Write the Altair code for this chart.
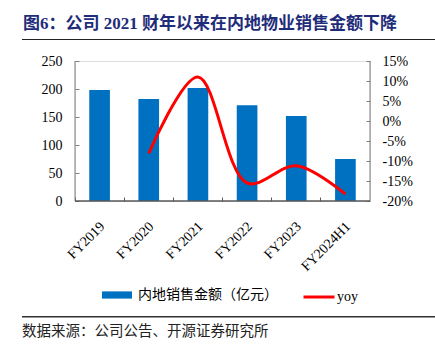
import altair as alt
import pandas as pd

categories = ["FY2019", "FY2020", "FY2021", "FY2022", "FY2023", "FY2024H1"]
sales = [198, 182, 202, 171, 152, 75]
yoy = [None, -8.1, 11.0, -15.5, -11.2, -18.3]
left_ticks = [0, 50, 100, 150, 200, 250]
right_ticks = [-20, -15, -10, -5, 0, 5, 10, 15]
bar_name = "内地销售金额（亿元）"
line_name = "yoy"
title_text = "图6：公司 2021 财年以来在内地物业销售金额下降"
source_text = "数据来源：公司公告、开源证券研究所"

W, H = 295, 140
SERIF = "Liberation Serif, Noto Sans CJK SC"
AXIS_GRAY = "#7F7F7F"

bars_df = pd.DataFrame({"cat": categories, "sales": sales, "series": [bar_name] * len(categories)})
line_df = pd.DataFrame({"cat": categories, "yoy": yoy, "series": [line_name] * len(categories)}).dropna()
one = pd.DataFrame({"k": [0]})

xscale = alt.Scale(domain=categories, paddingInner=0, paddingOuter=0)
xaxis = alt.Axis(title=None, labelAngle=-45, bandPosition=0, offset=-4, labelOffset=-2,
                 tickSize=4, domain=False, tickColor="#595959", labelPadding=18,
                 labelFont=SERIF, labelFontSize=14, labelColor="black")
xenc = alt.X("cat:N", scale=xscale, axis=xaxis, sort=categories)

bars = alt.Chart(bars_df).mark_bar(width=alt.RelativeBandSize(0.42)).encode(
    x=xenc,
    y=alt.Y("sales:Q", scale=alt.Scale(domain=[0, 250], nice=False),
            axis=alt.Axis(title=None, values=left_ticks, offset=-4, tickSize=4, domain=False,
                          tickColor=AXIS_GRAY, labelPadding=13, grid=False,
                          labelFont=SERIF, labelFontSize=14, labelColor="black")),
    color=alt.Color("series:N", scale=alt.Scale(range=["#0070C0"]),
                    legend=alt.Legend(orient="none", legendX=27, legendY=219, title=None,
                                      symbolType="M-1,-0.24H1V0.24H-1Z", symbolSize=900,
                                      symbolStrokeWidth=0, labelFont=SERIF, labelFontSize=14,
                                      labelColor="black", labelOffset=6, padding=0)),
)

line = alt.Chart(line_df).mark_line(interpolate="catmull-rom", strokeWidth=3).encode(
    x=xenc,
    y=alt.Y("yoy:Q", scale=alt.Scale(domain=[-20, 15], nice=False),
            axis=alt.Axis(title=None, orient="right", values=right_ticks, offset=-4, tickSize=4,
                          domain=False, tickColor=AXIS_GRAY, labelPadding=12, grid=False,
                          labelExpr="datum.value + '%'",
                          labelFont=SERIF, labelFontSize=14, labelColor="black")),
    stroke=alt.Stroke("series:N", scale=alt.Scale(range=["#FF0000"]),
                      legend=alt.Legend(orient="none", legendX=227, legendY=219, title=None,
                                        symbolType="stroke", symbolSize=961, symbolStrokeWidth=3,
                                        labelFont=SERIF, labelFontSize=14, labelColor="black",
                                        labelOffset=1, padding=0)),
)

left_line = alt.Chart(one).mark_rule(color=AXIS_GRAY, strokeWidth=1).encode(
    x=alt.value(0), y=alt.value(0), y2=alt.value(H))
right_line = alt.Chart(one).mark_rule(color=AXIS_GRAY, strokeWidth=1).encode(
    x=alt.value(W), y=alt.value(0), y2=alt.value(H))
bottom_line = alt.Chart(one).mark_rule(color="#595959", strokeWidth=1.5).encode(
    x=alt.value(0), x2=alt.value(W), y=alt.value(H))

title_rule = alt.Chart(one).mark_rule(color="#222222", strokeWidth=1).encode(
    x=alt.value(-53), x2=alt.value(360), y=alt.value(-21.5))
footer_rule = alt.Chart(one).mark_rule(color="#333333", strokeWidth=1.5).encode(
    x=alt.value(-53), x2=alt.value(360), y=alt.value(255.7))

title = alt.Chart(pd.DataFrame({"t": [title_text]})).mark_text(
    align="left", baseline="middle", font=SERIF, fontSize=17, fontWeight="bold",
    color="#1F2C7A").encode(text="t:N", x=alt.value(-52), y=alt.value(-37))
source = alt.Chart(pd.DataFrame({"t": [source_text]})).mark_text(
    align="left", baseline="middle", font=SERIF, fontSize=14.5,
    color="#222222").encode(text="t:N", x=alt.value(-53), y=alt.value(270.5))

chart = alt.layer(
    bars, left_line, right_line, bottom_line, line, title_rule, footer_rule, title, source
).resolve_scale(y="independent").properties(
    width=W, height=H,
    autosize=alt.AutoSizeParams(type="none"),
    padding={"left": 75, "top": 61, "right": 65, "bottom": 149},
).configure_view(stroke=None).configure(background="white")

chart.save("out.html", embed_options={"renderer": "svg", "actions": False})
